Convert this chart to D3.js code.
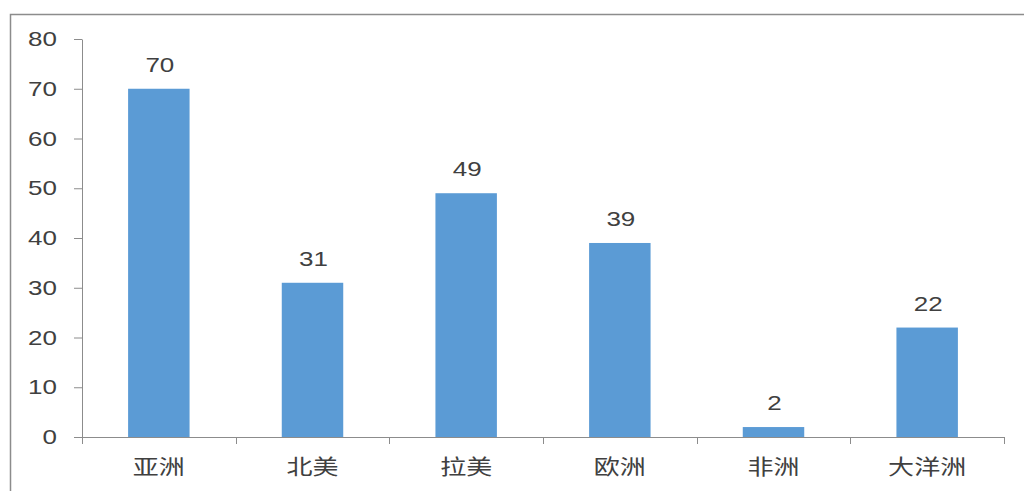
<!DOCTYPE html>
<html><head><meta charset="utf-8">
<script src="https://cdn.jsdelivr.net/npm/d3@7"></script>
<style>body{margin:0;background:#fff;} svg{display:block;}</style>
</head><body>
<svg id="c" width="1024" height="491"></svg>
<script>
const categories = ["亚洲","北美","拉美","欧洲","非洲","大洋洲"];
const values = [70,31,49,39,2,22];
const yTicks = [0,10,20,30,40,50,60,70,80];

const svg = d3.select("#c");
const m = {left:82, right:1004, top:39, bottom:437};
const axisColor = "#8c8c8c", textColor = "#404040";
const font = "'Liberation Sans', Arial, sans-serif";
const cjk = "'Noto Sans CJK SC', sans-serif";
const sx = 1.3; // horizontal stretch of text as in the reference

// outer frame
svg.append("path").attr("d","M10.5,491 V14.5 H1024").attr("fill","none").attr("stroke",axisColor).attr("stroke-width",1.5);

const x = d3.scaleBand().domain(categories).range([m.left,m.right]).paddingInner(0.6).paddingOuter(0.3);
const y = d3.scaleLinear().domain([0,80]).range([m.bottom,m.top]);

// bars
svg.selectAll("rect.bar").data(values).enter().append("rect").attr("class","bar")
  .attr("x",(d,i)=>x(categories[i])).attr("width",x.bandwidth())
  .attr("y",d=>y(d)).attr("height",d=>y(0)-y(d)).attr("fill","#5b9bd5");

// y axis
const ya = svg.append("g").attr("transform",`translate(${m.left},0)`)
  .call(d3.axisLeft(y).tickValues(yTicks).tickSize(8).tickSizeOuter(0).tickFormat(()=>""));
ya.select(".domain").attr("stroke",axisColor);
ya.selectAll(".tick line").attr("stroke",axisColor);
svg.selectAll("g.ylab").data(yTicks).enter().append("g").attr("class","ylab")
  .attr("transform",d=>`translate(57,${y(d)+7}) scale(${sx},1)`)
  .append("text").attr("text-anchor","end").attr("font-family",font).attr("font-size",20).attr("fill",textColor).text(d=>d);

// x axis: ticks at band boundaries
const step = (m.right-m.left)/categories.length;
const bounds = d3.range(categories.length+1).map(i=>m.left+i*step);
const xa = svg.append("g");
xa.append("line").attr("x1",m.left).attr("x2",m.right).attr("y1",m.bottom+0.5).attr("y2",m.bottom+0.5).attr("stroke",axisColor);
xa.selectAll("line.t").data(bounds).enter().append("line").attr("class","t")
  .attr("x1",d=>Math.round(d)+0.5).attr("x2",d=>Math.round(d)+0.5).attr("y1",m.bottom).attr("y2",m.bottom+7).attr("stroke",axisColor);
xa.selectAll("g.xlab").data(categories).enter().append("g").attr("class","xlab")
  .attr("transform",d=>`translate(${x(d)+x.bandwidth()/2},474) scale(1.24,1)`)
  .append("text").attr("text-anchor","middle").attr("font-family",cjk).attr("font-size",21).attr("fill",textColor).text(d=>d);

// value labels
svg.selectAll("g.val").data(values).enter().append("g").attr("class","val")
  .attr("transform",(d,i)=>`translate(${x(categories[i])+x.bandwidth()/2+1},${y(d)-17}) scale(${sx},1)`)
  .append("text").attr("text-anchor","middle").attr("font-family",font).attr("font-size",20).attr("fill",textColor).text(d=>d);
</script>
</body></html>
